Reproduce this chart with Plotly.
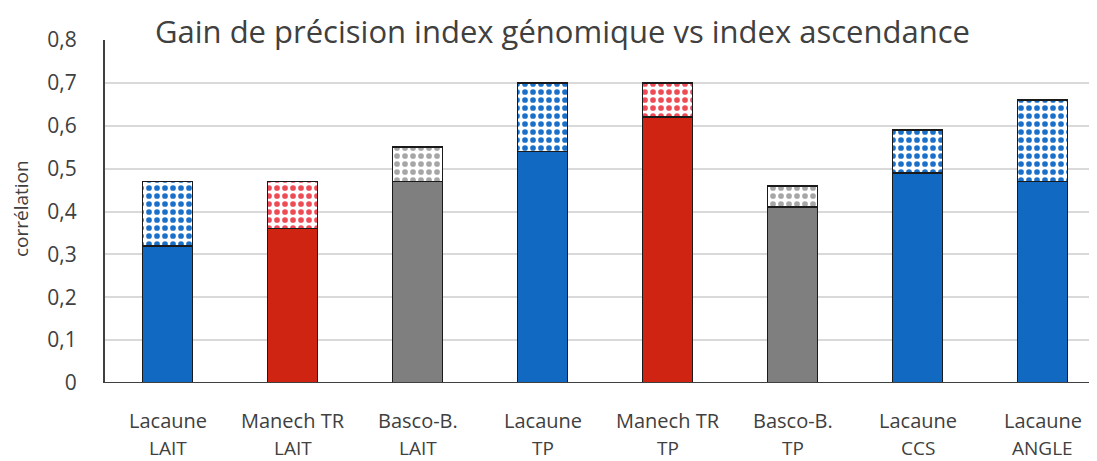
import plotly.graph_objects as go

races = ["Lacaune", "Manech TR", "Basco-B.", "Lacaune", "Manech TR", "Basco-B.", "Lacaune", "Lacaune"]
caracteres = ["LAIT", "LAIT", "LAIT", "TP", "TP", "TP", "CCS", "ANGLE"]
index_ascendance = [0.32, 0.36, 0.47, 0.54, 0.62, 0.41, 0.49, 0.47]
gain_genomique = [0.15, 0.11, 0.08, 0.16, 0.08, 0.05, 0.10, 0.19]
y_ticks = [0, 0.1, 0.2, 0.3, 0.4, 0.5, 0.6, 0.7, 0.8]
y_tick_labels = ["0", "0,1", "0,2", "0,3", "0,4", "0,5", "0,6", "0,7", "0,8"]

solid_colors = {"Lacaune": "#1269C2", "Manech TR": "#CF2412", "Basco-B.": "#7F7F7F"}
dot_colors = {"Lacaune": "#1A6FC8", "Manech TR": "#EE4B57", "Basco-B.": "#A6A6A6"}

x = list(range(len(races)))
FONT = "Open Sans"
TXT = "#404040"

fig = go.Figure()
fig.add_trace(go.Bar(
    x=x, y=index_ascendance, width=0.4,
    marker=dict(color=[solid_colors[r] for r in races],
                line=dict(color="#1a1a1a", width=1.5)),
    showlegend=False, hoverinfo="skip",
))
fig.add_trace(go.Bar(
    x=x, y=gain_genomique, width=0.4,
    marker=dict(color="white",
                line=dict(color="#1a1a1a", width=1.5),
                pattern=dict(shape=".", fgcolor=[dot_colors[r] for r in races],
                             bgcolor="white", size=8, solidity=0.4,
                             fillmode="replace")),
    showlegend=False, hoverinfo="skip",
))

annotations = []
for i, (r, c) in enumerate(zip(races, caracteres)):
    annotations.append(dict(x=i, xref="x", y=0, yref="paper", yshift=-37,
                            text=r, showarrow=False, yanchor="middle",
                            font=dict(family=FONT, size=20, color=TXT)))
    annotations.append(dict(x=i, xref="x", y=0, yref="paper", yshift=-65,
                            text=c, showarrow=False, yanchor="middle",
                            font=dict(family=FONT, size=19, color=TXT)))

annotations.append(dict(x=0.457, xref="paper", y=1.0, yref="paper", yshift=9,
                        text="Gain de précision index génomique vs index ascendance",
                        showarrow=False, yanchor="middle",
                        font=dict(family=FONT, size=31, color=TXT)))
annotations.append(dict(x=-0.084, xref="paper", y=0.507, yref="paper",
                        text="corrélation", textangle=-90, showarrow=False,
                        xanchor="center", yanchor="middle",
                        font=dict(family=FONT, size=19, color=TXT)))

fig.update_layout(
    width=1097, height=461,
    margin=dict(l=97, r=0, t=31.5, b=85.5),
    paper_bgcolor="white", plot_bgcolor="white",
    barmode="stack", bargap=0.6,
    annotations=annotations,
    xaxis=dict(range=[-0.5, 7.5], tickmode="array", tickvals=x,
               showticklabels=False, automargin=False,
               showgrid=False, zeroline=False, showline=False, ticks=""),
    yaxis=dict(range=[0, 0.8], tickmode="array", tickvals=y_ticks, ticktext=y_tick_labels,
               automargin=False,
               showgrid=True, gridcolor="#D9D9D9", gridwidth=2,
               zeroline=False, showline=True, linecolor="#404040", linewidth=2,
               ticks="", tickfont=dict(family=FONT, size=21, color=TXT),
               ticklabelstandoff=22),
)
fig.add_shape(type="line", xref="paper", yref="y", x0=0, x1=1, y0=0, y1=0,
              line=dict(color="#404040", width=2), layer="above")

fig.write_html("out.html")
